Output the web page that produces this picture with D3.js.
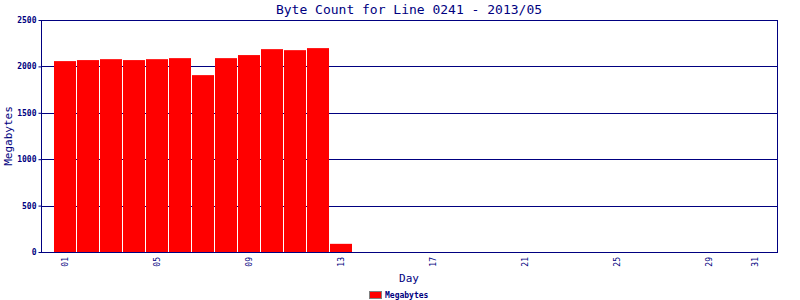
<!DOCTYPE html>
<html>
<head>
<meta charset="utf-8">
<script src="https://cdn.jsdelivr.net/npm/d3@7"></script>
<style>
  body { margin: 0; background: #fff; }
  text { font-family: "DejaVu Sans Mono", monospace; fill: #000080; }
</style>
</head>
<body>
<div id="chart_container"></div>
<script>
// data
const days = [1, 2, 3, 4, 5, 6, 7, 8, 9, 10, 11, 12, 13];
const megabytes = [2057, 2068, 2078, 2068, 2078, 2089, 1906, 2089, 2122, 2186, 2175, 2197, 88];
const dayTicks = [1, 5, 9, 13, 17, 21, 25, 29, 31];
const yTicks = [0, 500, 1000, 1500, 2000, 2500];

const w = 800, h = 300;
const margin = {top: 20, right: 23, bottom: 48, left: 41};
const navy = "#000080";

const svg = d3.select("#chart_container").append("svg")
    .attr("width", w)
    .attr("height", h);

// scales
const xScale = d3.scaleLinear()
    .domain([0, 32])
    .range([margin.left, w - margin.right]);

const yScale = d3.scaleLinear()
    .domain([0, 2500])
    .range([h - margin.bottom, margin.top]);

const barW = xScale(1) - xScale(0) - 1;

// grid lines
svg.append("g")
    .selectAll("line")
    .data(yTicks.slice(1))
    .enter()
    .append("line")
    .attr("x1", margin.left)
    .attr("x2", w - margin.right)
    .attr("y1", d => Math.round(yScale(d)) + 0.5)
    .attr("y2", d => Math.round(yScale(d)) + 0.5)
    .attr("stroke", navy);

// bars
svg.append("g")
    .selectAll("rect")
    .data(days)
    .enter()
    .append("rect")
    .attr("x", (d) => Math.round(xScale(d) - barW / 2) + 1)
    .attr("y", (d, i) => yScale(megabytes[i]))
    .attr("width", barW)
    .attr("height", (d, i) => yScale(0) - yScale(megabytes[i]))
    .attr("fill", "#ff0000");

// y-axis
const yAxis = d3.axisLeft(yScale)
    .tickValues(yTicks)
    .tickSize(3)
    .tickPadding(2)
    .tickFormat(d3.format("d"));

const gy = svg.append("g")
    .attr("transform", "translate(" + (margin.left + 0.5) + ",0)")
    .call(yAxis);
gy.select(".domain").remove();
gy.selectAll("line").attr("stroke", navy);
gy.selectAll("text")
    .style("font-size", "8px")
    .style("font-weight", "bold")
    .attr("fill", navy);

// x-axis
const xAxis = d3.axisBottom(xScale)
    .tickValues(dayTicks)
    .tickSize(0)
    .tickFormat(d3.format("02d"));

const gx = svg.append("g")
    .attr("transform", "translate(1," + (h - margin.bottom) + ")")
    .call(xAxis);
gx.select(".domain").remove();
gx.selectAll("text")
    .style("font-size", "8px")
    .attr("fill", navy)
    .attr("transform", "rotate(-90)")
    .attr("text-anchor", "end")
    .attr("x", -5)
    .attr("y", 0)
    .attr("dy", "0.35em");

// frame
svg.append("rect")
    .attr("x", margin.left + 0.5)
    .attr("y", margin.top + 0.5)
    .attr("width", w - margin.right - margin.left)
    .attr("height", h - margin.bottom - margin.top)
    .attr("fill", "none")
    .attr("stroke", navy);

// title and axis labels
svg.append("text")
    .attr("x", 409)
    .attr("y", 14)
    .attr("text-anchor", "middle")
    .style("font-size", "13px")
    .text("Byte Count for Line 0241 - 2013/05");

svg.append("text")
    .attr("x", 409)
    .attr("y", 282)
    .attr("text-anchor", "middle")
    .style("font-size", "11px")
    .text("Day");

svg.append("text")
    .attr("transform", "translate(12,136) rotate(-90)")
    .attr("text-anchor", "middle")
    .style("font-size", "11px")
    .text("Megabytes");

// legend
svg.append("rect")
    .attr("x", 369.5)
    .attr("y", 291.5)
    .attr("width", 12)
    .attr("height", 7)
    .attr("fill", "#ff0000")
    .attr("stroke", "#808080");

svg.append("text")
    .attr("x", 385)
    .attr("y", 298)
    .style("font-size", "8px")
    .style("font-weight", "bold")
    .text("Megabytes");
</script>
</body>
</html>
